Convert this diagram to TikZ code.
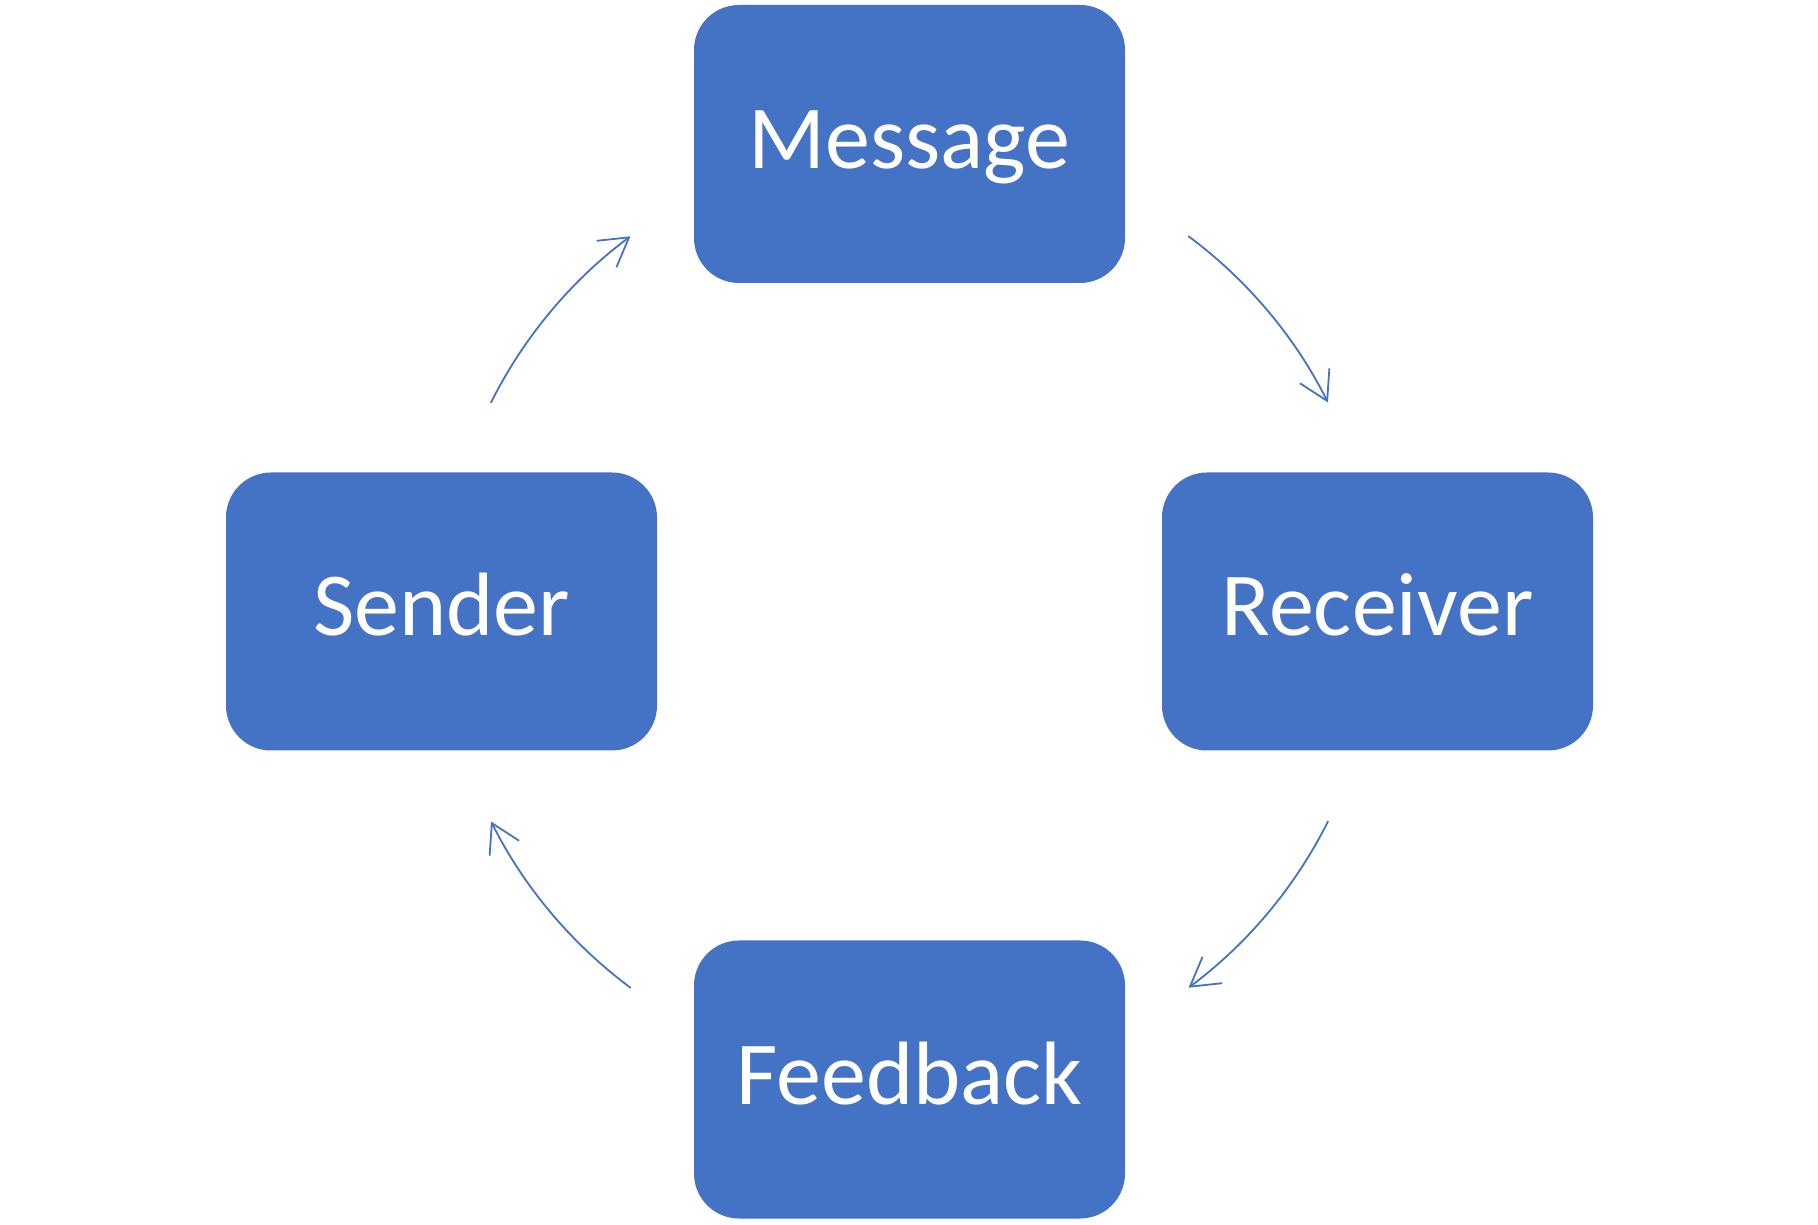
\documentclass[tikz,border=0pt]{standalone}
\usepackage{fontspec}
\setmainfont{Carlito}
\usetikzlibrary{arrows.meta}
\definecolor{boxblue}{HTML}{4472C4}
\tikzset{
  x=1pt, y=1pt,
  cyclebox/.style={draw=none, fill=boxblue, rounded corners=45pt,
    minimum width=431pt, minimum height=278pt, inner sep=0pt,
    text=white, font=\fontsize{90pt}{90pt}\selectfont,
    text height=57pt, text depth=8pt},
  conn/.style={draw=boxblue, line width=1.8pt, line cap=round, line join=round,
    -{Straight Barb[length=28pt, width=33pt, line join=miter]}}
}
\begin{document}
\begin{tikzpicture}
\useasboundingbox (0,0) rectangle (1818,1224);
\node[cyclebox] (message)  at (909.5,1080)  {Message};
\node[cyclebox] (sender)   at (441.5,612.5) {Sender};
\node[cyclebox] (receiver) at (1377.5,612.5) {Receiver};
\node[cyclebox] (feedback) at (909.5,144.5) {Feedback};
\coordinate (c) at (909.5,612);
\coordinate (a1) at ([shift={(153.4:468)}]c);
\coordinate (a2) at ([shift={(53.4:468)}]c);
\coordinate (a3) at ([shift={(-26.6:468)}]c);
\coordinate (a4) at ([shift={(-126.6:468)}]c);
\draw[conn] (a1) arc[start angle=153.4, end angle=126.6, radius=468];
\draw[conn] (a2) arc[start angle=53.4, end angle=26.6, radius=468];
\draw[conn] (a3) arc[start angle=-26.6, end angle=-53.4, radius=468];
\draw[conn] (a4) arc[start angle=-126.6, end angle=-153.4, radius=468];
\end{tikzpicture}
\end{document}
